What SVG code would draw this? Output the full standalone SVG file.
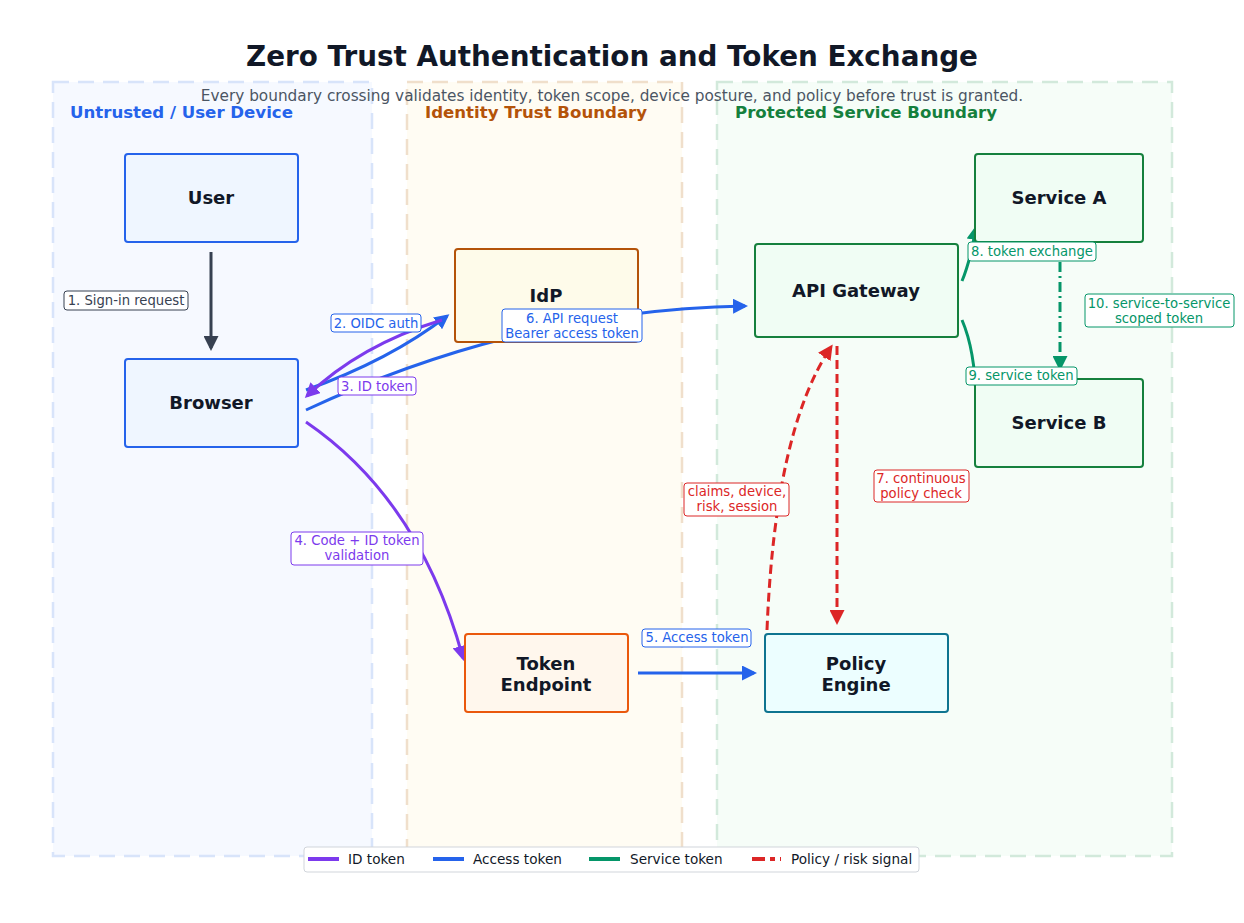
<svg xmlns="http://www.w3.org/2000/svg" width="1244" height="923" viewBox="0 0 1244 923">
<defs>
<style>
.title{font-family:"DejaVu Sans",sans-serif;font-weight:bold;font-size:27.8px;fill:#111827}
.sub{font-family:"DejaVu Sans",sans-serif;font-size:15.3px;fill:#4b5563}
.zl{font-family:"DejaVu Sans",sans-serif;font-weight:bold;font-size:16.6px}
.zone{stroke-width:2.5;stroke-dasharray:16 9}
.node{stroke-width:2}
.nt{font-family:"DejaVu Sans",sans-serif;font-weight:bold;font-size:18px;fill:#111827;text-anchor:middle}
.lb{fill:#ffffff;stroke-width:1}
.lt{font-family:"DejaVu Sans",sans-serif;font-size:13.2px;text-anchor:middle}
.edge{fill:none;stroke-width:3}
.leg{font-family:"DejaVu Sans",sans-serif;font-size:13.6px;fill:#111827}
</style>
<marker id="aGray" viewBox="0 0 10 10" refX="8" refY="5" markerWidth="5" markerHeight="5" orient="auto"><path d="M0,0 L10,5 L0,10 z" fill="#374151"/></marker>
<marker id="aBlue" viewBox="0 0 10 10" refX="8" refY="5" markerWidth="5" markerHeight="5" orient="auto"><path d="M0,0 L10,5 L0,10 z" fill="#2563eb"/></marker>
<marker id="aPurple" viewBox="0 0 10 10" refX="8" refY="5" markerWidth="5" markerHeight="5" orient="auto"><path d="M0,0 L10,5 L0,10 z" fill="#7c3aed"/></marker>
<marker id="aGreen" viewBox="0 0 10 10" refX="8" refY="5" markerWidth="5" markerHeight="5" orient="auto"><path d="M0,0 L10,5 L0,10 z" fill="#059669"/></marker>
<marker id="aRed" viewBox="0 0 10 10" refX="8" refY="5" markerWidth="5" markerHeight="5" orient="auto"><path d="M0,0 L10,5 L0,10 z" fill="#dc2626"/></marker>
</defs>
<rect width="1244" height="923" fill="#ffffff"/>

<g id="zones">
<rect class="zone" x="53" y="82" width="319" height="774" fill="#f6f9ff" stroke="#d8e4fa"/>
<rect class="zone" x="407" y="82" width="275" height="774" fill="#fffcf3" stroke="#f0dfcb"/>
<rect class="zone" x="717" y="82" width="455" height="774" fill="#f6fdf8" stroke="#d2e9db"/>
<text class="zl" x="70" y="118" fill="#2563eb">Untrusted / User Device</text>
<text class="zl" x="425" y="118" fill="#b45309">Identity Trust Boundary</text>
<text class="zl" x="735" y="118" fill="#15803d">Protected Service Boundary</text>
</g>

<text class="title" x="612" y="66" text-anchor="middle">Zero Trust Authentication and Token Exchange</text>
<text class="sub" x="612" y="101" text-anchor="middle">Every boundary crossing validates identity, token scope, device posture, and policy before trust is granted.</text>

<g id="connectors">
<path class="edge" d="M211,252 L211,348" stroke="#374151" marker-end="url(#aGray)"/>
<path class="edge" d="M306,390 Q390,360 447,316" stroke="#2563eb" marker-end="url(#aBlue)"/>
<path class="edge" d="M442,320 Q360,345 307,396" stroke="#7c3aed" marker-end="url(#aPurple)"/>
<path class="edge" d="M306,410 Q520,310 745,306" stroke="#2563eb" marker-end="url(#aBlue)"/>
<path class="edge" d="M306,422 Q420,500 463,658" stroke="#7c3aed" marker-end="url(#aPurple)"/>
<path class="edge" d="M638,673 L754,673" stroke="#2563eb" marker-end="url(#aBlue)"/>
<path class="edge" d="M837,346 L837,622" stroke="#dc2626" stroke-dasharray="9 5" marker-end="url(#aRed)"/>
<path class="edge" d="M767,630 Q775,430 831,347" stroke="#dc2626" stroke-dasharray="9 5" marker-end="url(#aRed)"/>
<path class="edge" d="M962,281 Q970,262 976,228" stroke="#059669" marker-end="url(#aGreen)"/>
<path class="edge" d="M962,320 Q975,350 976,400" stroke="#059669"/>
<path class="edge" d="M1060,262 L1060,368" stroke="#059669" stroke-dasharray="10 4 2 4" marker-end="url(#aGreen)"/>
</g>

<g id="user">
<rect class="node" x="125" y="154" width="173" height="88" rx="3" fill="#eff6ff" stroke="#2563eb"/>
<text class="nt" x="211" y="204">User</text>
</g>
<g id="browser">
<rect class="node" x="125" y="359" width="173" height="88" rx="3" fill="#eff6ff" stroke="#2563eb"/>
<text class="nt" x="211" y="409">Browser</text>
</g>
<g id="idp">
<rect class="node" x="455" y="249" width="183" height="93" rx="3" fill="#fefbea" stroke="#b45309"/>
<text class="nt" x="546" y="302">IdP</text>
</g>
<g id="token-endpoint">
<rect class="node" x="465" y="634" width="163" height="78" rx="3" fill="#fff7ed" stroke="#ea580c"/>
<text class="nt" x="546" y="670">Token</text>
<text class="nt" x="546" y="691">Endpoint</text>
</g>
<g id="api-gateway">
<rect class="node" x="755" y="244" width="203" height="93" rx="3" fill="#f0fdf4" stroke="#15803d"/>
<text class="nt" x="856" y="297">API Gateway</text>
</g>
<g id="service-a">
<rect class="node" x="975" y="154" width="168" height="88" rx="3" fill="#f0fdf4" stroke="#15803d"/>
<text class="nt" x="1059" y="204">Service A</text>
</g>
<g id="service-b">
<rect class="node" x="975" y="379" width="168" height="88" rx="3" fill="#f0fdf4" stroke="#15803d"/>
<text class="nt" x="1059" y="429">Service B</text>
</g>
<g id="policy-engine">
<rect class="node" x="765" y="634" width="183" height="78" rx="3" fill="#ecfeff" stroke="#0e7490"/>
<text class="nt" x="856" y="670">Policy</text>
<text class="nt" x="856" y="691">Engine</text>
</g>

<g id="connector-labels">
<rect class="lb" x="64" y="291" width="124" height="19" rx="3" stroke="#374151"/>
<text class="lt" x="126" y="305" fill="#374151">1. Sign-in request</text>
<rect class="lb" x="331" y="314" width="90" height="18" rx="3" stroke="#2563eb"/>
<text class="lt" x="376" y="328" fill="#2563eb">2. OIDC auth</text>
<rect class="lb" x="338" y="377" width="78" height="18" rx="3" stroke="#7c3aed"/>
<text class="lt" x="377" y="391" fill="#7c3aed">3. ID token</text>
<rect class="lb" x="291" y="532" width="132" height="33" rx="3" stroke="#7c3aed"/>
<text class="lt" x="357" y="545" fill="#7c3aed">4. Code + ID token</text>
<text class="lt" x="357" y="560" fill="#7c3aed">validation</text>
<rect class="lb" x="642" y="629" width="109" height="18" rx="3" stroke="#2563eb"/>
<text class="lt" x="697" y="642" fill="#2563eb">5. Access token</text>
<rect class="lb" x="502" y="309" width="140" height="33" rx="3" stroke="#2563eb"/>
<text class="lt" x="572" y="323" fill="#2563eb">6. API request</text>
<text class="lt" x="572" y="338" fill="#2563eb">Bearer access token</text>
<rect class="lb" x="874" y="470" width="95" height="32" rx="3" stroke="#dc2626"/>
<text class="lt" x="921" y="483" fill="#dc2626">7. continuous</text>
<text class="lt" x="921" y="498" fill="#dc2626">policy check</text>
<rect class="lb" x="684" y="483" width="105" height="33" rx="3" stroke="#dc2626"/>
<text class="lt" x="737" y="496" fill="#dc2626">claims, device,</text>
<text class="lt" x="737" y="511" fill="#dc2626">risk, session</text>
<rect class="lb" x="968" y="242" width="128" height="19" rx="3" stroke="#059669"/>
<text class="lt" x="1032" y="256" fill="#059669">8. token exchange</text>
<rect class="lb" x="966" y="367" width="111" height="18" rx="3" stroke="#059669"/>
<text class="lt" x="1021" y="380" fill="#059669">9. service token</text>
<rect class="lb" x="1085" y="294" width="149" height="33" rx="3" stroke="#059669"/>
<text class="lt" x="1159" y="308" fill="#059669">10. service-to-service</text>
<text class="lt" x="1159" y="323" fill="#059669">scoped token</text>
</g>

<g id="legend">
<rect x="304" y="847" width="615" height="25" rx="3" fill="#ffffff" stroke="#d1d5db"/>
<line x1="308" y1="859" x2="339" y2="859" stroke="#7c3aed" stroke-width="4"/>
<text class="leg" x="348" y="864">ID token</text>
<line x1="433" y1="859" x2="464" y2="859" stroke="#2563eb" stroke-width="4"/>
<text class="leg" x="473" y="864">Access token</text>
<line x1="589" y1="859" x2="620" y2="859" stroke="#059669" stroke-width="4"/>
<text class="leg" x="630" y="864">Service token</text>
<line x1="752" y1="859" x2="781" y2="859" stroke="#dc2626" stroke-width="4" stroke-dasharray="13 5 5 5"/>
<text class="leg" x="791" y="864">Policy / risk signal</text>
</g>
</svg>
